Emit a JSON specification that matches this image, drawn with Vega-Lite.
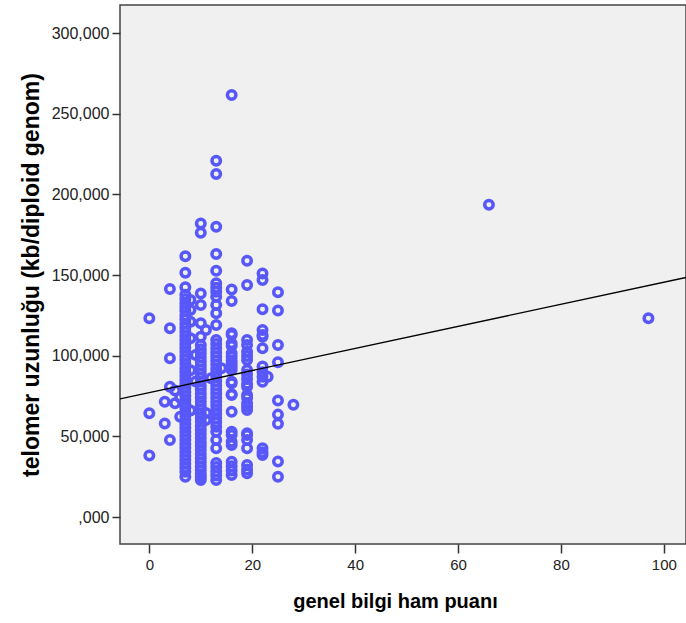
{
  "$schema": "https://vega.github.io/schema/vega-lite/v6.json",
  "width": 566,
  "height": 539,
  "autosize": "none",
  "padding": {"left": 120, "top": 5, "right": 0, "bottom": 79},
  "background": "white",
  "config": {
    "view": {"fill": "#f0f0f0", "stroke": "#444444", "strokeWidth": 1.5},
    "font": "Liberation Sans"
  },
  "datasets": {
    "points": [
      {"score":0,"telomer":123.2},{"score":0,"telomer":64.3},{"score":0,"telomer":38.2},
      {"score":3,"telomer":71.5},{"score":3,"telomer":58.0},
      {"score":4,"telomer":141.3},{"score":4,"telomer":117.0},{"score":4,"telomer":98.4},{"score":4,"telomer":80.8},{"score":4,"telomer":47.7},
      {"score":5,"telomer":78.5},{"score":5,"telomer":70.5},
      {"score":6,"telomer":62.2},{"score":6,"telomer":74.0},
      {"score":7,"telomer":161.6},{"score":7,"telomer":151.5},{"score":7,"telomer":142.4},{"score":7,"telomer":137.8},{"score":7,"telomer":135.2},{"score":7,"telomer":132.6},{"score":7,"telomer":130.1},{"score":7,"telomer":127.7},{"score":7,"telomer":125.0},{"score":7,"telomer":122.4},{"score":7,"telomer":119.8},{"score":7,"telomer":117.3},{"score":7,"telomer":114.9},{"score":7,"telomer":112.2},{"score":7,"telomer":109.8},{"score":7,"telomer":107.3},{"score":7,"telomer":104.9},{"score":7,"telomer":102.4},{"score":7,"telomer":99.8},{"score":7,"telomer":97.5},{"score":7,"telomer":95.0},{"score":7,"telomer":92.3},{"score":7,"telomer":89.9},{"score":7,"telomer":87.4},{"score":7,"telomer":85.0},{"score":7,"telomer":82.6},{"score":7,"telomer":80.1},{"score":7,"telomer":77.5},{"score":7,"telomer":75.0},{"score":7,"telomer":72.6},{"score":7,"telomer":70.1},{"score":7,"telomer":67.7},{"score":7,"telomer":65.2},{"score":7,"telomer":62.6},{"score":7,"telomer":60.1},{"score":7,"telomer":57.7},{"score":7,"telomer":55.3},{"score":7,"telomer":52.8},{"score":7,"telomer":50.2},{"score":7,"telomer":47.8},{"score":7,"telomer":45.3},{"score":7,"telomer":42.9},{"score":7,"telomer":40.4},{"score":7,"telomer":37.9},{"score":7,"telomer":35.5},{"score":7,"telomer":33.0},{"score":7,"telomer":30.6},{"score":7,"telomer":28.1},{"score":7,"telomer":25.0},
      {"score":8,"telomer":134.5},{"score":8,"telomer":128.3},{"score":8,"telomer":121.0},{"score":8,"telomer":110.8},{"score":8,"telomer":91.0},{"score":8,"telomer":66.0},
      {"score":9,"telomer":100.5},{"score":9,"telomer":84.0},
      {"score":10,"telomer":182.0},{"score":10,"telomer":176.2},{"score":10,"telomer":138.6},{"score":10,"telomer":131.4},{"score":10,"telomer":120.1},{"score":10,"telomer":111.8},{"score":10,"telomer":106.6},{"score":10,"telomer":104.0},{"score":10,"telomer":101.5},{"score":10,"telomer":99.0},{"score":10,"telomer":96.4},{"score":10,"telomer":94.0},{"score":10,"telomer":91.5},{"score":10,"telomer":89.0},{"score":10,"telomer":86.5},{"score":10,"telomer":84.0},{"score":10,"telomer":81.4},{"score":10,"telomer":79.0},{"score":10,"telomer":76.5},{"score":10,"telomer":74.0},{"score":10,"telomer":71.4},{"score":10,"telomer":69.0},{"score":10,"telomer":66.5},{"score":10,"telomer":64.0},{"score":10,"telomer":61.4},{"score":10,"telomer":59.0},{"score":10,"telomer":56.5},{"score":10,"telomer":54.0},{"score":10,"telomer":51.5},{"score":10,"telomer":49.0},{"score":10,"telomer":46.4},{"score":10,"telomer":44.0},{"score":10,"telomer":41.5},{"score":10,"telomer":39.0},{"score":10,"telomer":36.5},{"score":10,"telomer":34.0},{"score":10,"telomer":31.4},{"score":10,"telomer":29.0},{"score":10,"telomer":26.5},{"score":10,"telomer":24.9},{"score":10,"telomer":22.9},
      {"score":11,"telomer":115.9},{"score":11,"telomer":64.5},{"score":11,"telomer":60.1},
      {"score":12,"telomer":86.0},
      {"score":13,"telomer":220.8},{"score":13,"telomer":212.6},{"score":13,"telomer":180.0},{"score":13,"telomer":163.0},{"score":13,"telomer":152.7},{"score":13,"telomer":144.9},{"score":13,"telomer":142.2},{"score":13,"telomer":139.6},{"score":13,"telomer":136.5},{"score":13,"telomer":131.4},{"score":13,"telomer":126.3},{"score":13,"telomer":119.0},{"score":13,"telomer":109.7},{"score":13,"telomer":107.2},{"score":13,"telomer":104.6},{"score":13,"telomer":102.0},{"score":13,"telomer":99.5},{"score":13,"telomer":97.0},{"score":13,"telomer":94.4},{"score":13,"telomer":91.8},{"score":13,"telomer":89.3},{"score":13,"telomer":86.8},{"score":13,"telomer":84.2},{"score":13,"telomer":81.6},{"score":13,"telomer":79.1},{"score":13,"telomer":76.6},{"score":13,"telomer":74.0},{"score":13,"telomer":71.5},{"score":13,"telomer":69.0},{"score":13,"telomer":66.4},{"score":13,"telomer":63.9},{"score":13,"telomer":61.3},{"score":13,"telomer":58.8},{"score":13,"telomer":56.0},{"score":13,"telomer":52.9},{"score":13,"telomer":47.7},{"score":13,"telomer":42.6},{"score":13,"telomer":33.5},{"score":13,"telomer":31.0},{"score":13,"telomer":28.4},{"score":13,"telomer":25.8},{"score":13,"telomer":22.9},
      {"score":14,"telomer":92.2},
      {"score":16,"telomer":261.6},{"score":16,"telomer":141.1},{"score":16,"telomer":133.9},{"score":16,"telomer":113.9},{"score":16,"telomer":112.8},{"score":16,"telomer":107.7},{"score":16,"telomer":106.0},{"score":16,"telomer":101.6},{"score":16,"telomer":99.4},{"score":16,"telomer":97.0},{"score":16,"telomer":95.2},{"score":16,"telomer":93.2},{"score":16,"telomer":91.1},{"score":16,"telomer":83.9},{"score":16,"telomer":82.9},{"score":16,"telomer":76.2},{"score":16,"telomer":75.6},{"score":16,"telomer":65.3},{"score":16,"telomer":52.9},{"score":16,"telomer":50.8},{"score":16,"telomer":46.7},{"score":16,"telomer":44.6},{"score":16,"telomer":34.3},{"score":16,"telomer":31.5},{"score":16,"telomer":28.8},{"score":16,"telomer":26.0},
      {"score":19,"telomer":158.9},{"score":19,"telomer":143.8},{"score":19,"telomer":109.7},{"score":19,"telomer":106.6},{"score":19,"telomer":102.5},{"score":19,"telomer":99.9},{"score":19,"telomer":97.3},{"score":19,"telomer":91.1},{"score":19,"telomer":88.3},{"score":19,"telomer":85.5},{"score":19,"telomer":82.6},{"score":19,"telomer":80.8},{"score":19,"telomer":75.6},{"score":19,"telomer":73.8},{"score":19,"telomer":70.6},{"score":19,"telomer":68.4},{"score":19,"telomer":66.3},{"score":19,"telomer":52.0},{"score":19,"telomer":50.8},{"score":19,"telomer":47.7},{"score":19,"telomer":42.7},{"score":19,"telomer":32.2},{"score":19,"telomer":29.5},{"score":19,"telomer":27.1},
      {"score":22,"telomer":151.0},{"score":22,"telomer":146.9},{"score":22,"telomer":128.8},{"score":22,"telomer":115.9},{"score":22,"telomer":112.8},{"score":22,"telomer":111.8},{"score":22,"telomer":104.6},{"score":22,"telomer":93.4},{"score":22,"telomer":89.8},{"score":22,"telomer":87.0},{"score":22,"telomer":83.9},{"score":22,"telomer":42.6},{"score":22,"telomer":40.2},{"score":22,"telomer":38.4},
      {"score":23,"telomer":87.0},
      {"score":25,"telomer":139.3},{"score":25,"telomer":128.1},{"score":25,"telomer":106.6},{"score":25,"telomer":96.0},{"score":25,"telomer":72.2},{"score":25,"telomer":63.5},{"score":25,"telomer":57.8},{"score":25,"telomer":34.5},{"score":25,"telomer":25.0},
      {"score":28,"telomer":69.6},
      {"score":66,"telomer":193.6},
      {"score":97,"telomer":123.2}
    ],
    "fit": [
      {"score":-5.7,"telomer":73.2},
      {"score":104.3,"telomer":148.5}
    ]
  },
  "layer": [
    {
      "data": {"name": "points"},
      "mark": {"type": "point", "shape": "circle", "filled": false, "color": "#5858fa", "strokeWidth": 3.5, "size": 72, "opacity": 1},
      "encoding": {
        "x": {
          "field": "score", "type": "quantitative",
          "scale": {"domain": [-5.7, 104.3], "nice": false, "zero": false},
          "axis": {
            "values": [0, 20, 40, 60, 80, 100],
            "domain": false, "grid": false,
            "tickSize": 9, "tickColor": "#333333", "tickWidth": 1.5,
            "labelFontSize": 15, "labelColor": "#222222", "labelPadding": 4,
            "title": "genel bilgi ham puanı",
            "titleFontSize": 20, "titleFontWeight": "bold", "titleColor": "#000000",
            "titlePadding": 19, "titleX": 275
          }
        },
        "y": {
          "field": "telomer", "type": "quantitative",
          "scale": {"domain": [-16.7, 317.4], "nice": false, "zero": false},
          "axis": {
            "values": [0, 50, 100, 150, 200, 250, 300],
            "labelExpr": "datum.value == 0 ? ',000' : replace(format(datum.value, ',.3f'), '.', ',')",
            "domain": false, "grid": false,
            "tickSize": 8, "tickColor": "#333333", "tickWidth": 1.5,
            "labelFontSize": 16, "labelColor": "#222222", "labelPadding": 3,
            "title": "telomer uzunluğu (kb/diploid genom)",
            "titleFontSize": 23, "titleFontWeight": "bold", "titleColor": "#000000",
            "titlePadding": 8
          }
        }
      }
    },
    {
      "data": {"name": "fit"},
      "mark": {"type": "line", "color": "#000000", "strokeWidth": 1.3, "clip": true},
      "encoding": {
        "x": {"field": "score", "type": "quantitative"},
        "y": {"field": "telomer", "type": "quantitative"}
      }
    }
  ]
}
